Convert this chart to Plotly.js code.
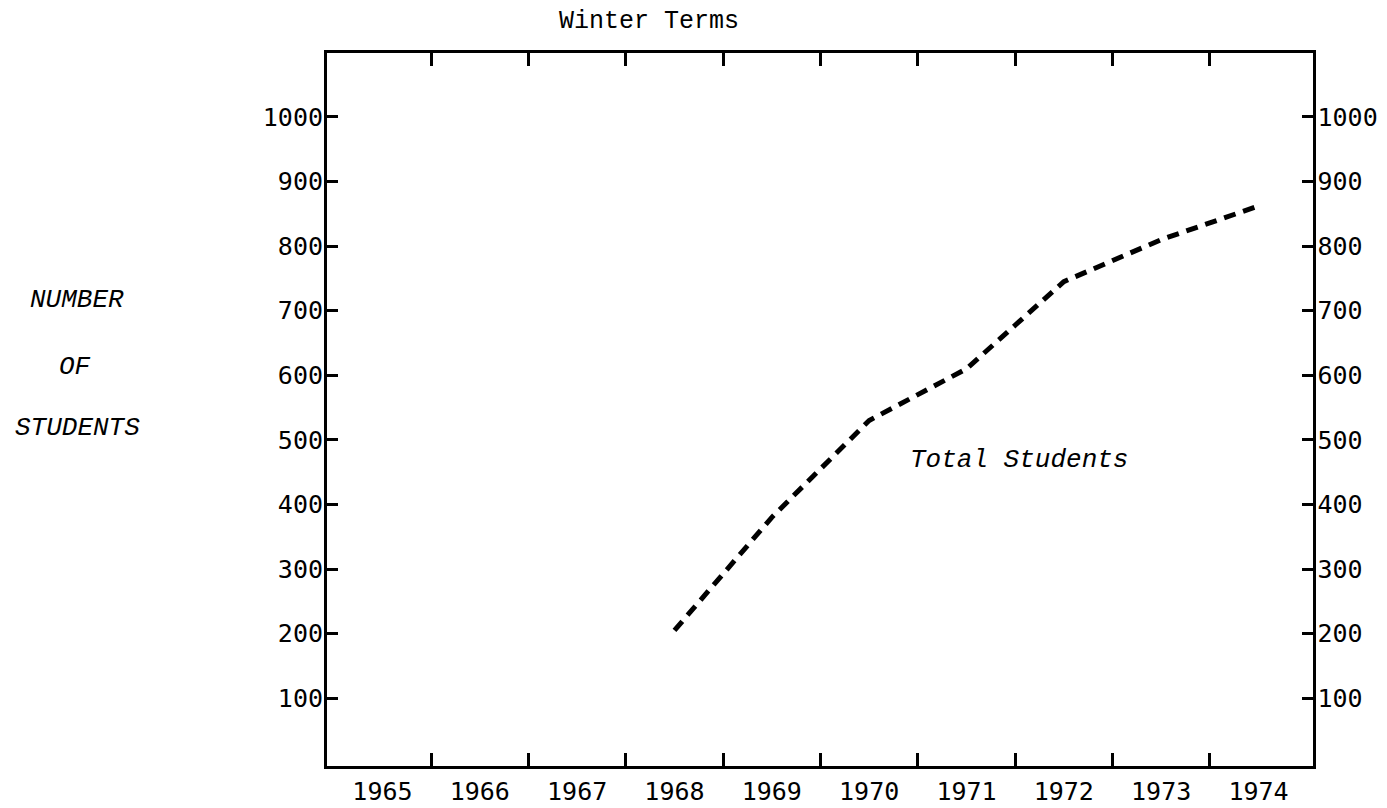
<!DOCTYPE html>
<html>
<head>
<meta charset="utf-8">
<script src="https://cdn.plot.ly/plotly-3.0.1.min.js"></script>
<style>
  html, body { margin: 0; padding: 0; background: #fff; }
  #chart { width: 1387px; height: 808px; }
</style>
</head>
<body>
<div id="chart"></div>
<script>
// ---- data ----
const years = [1968, 1969, 1970, 1971, 1972, 1973, 1974];
const totalStudents = [205, 380, 530, 610, 745, 810, 862];

const yearTicks = [1965, 1966, 1967, 1968, 1969, 1970, 1971, 1972, 1973, 1974];
const yearTickLabels = ['1965', '1966', '1967', '1968', '1969', '1970', '1971', '1972', '1973', '1974'];
const yearDividers = [1965.5, 1966.5, 1967.5, 1968.5, 1969.5, 1970.5, 1971.5, 1972.5, 1973.5];
const yTicks = [100, 200, 300, 400, 500, 600, 700, 800, 900, 1000];
const yTickLabels = ['100', '200', '300', '400', '500', '600', '700', '800', '900', '1000'];

const tickFont = { family: 'DejaVu Sans Mono', size: 25, color: '#000' };
const typeFont = { family: 'Courier New, Courier, Liberation Mono', size: 25, color: '#000' };
const italicFont = { family: 'Courier New, Courier, Liberation Mono', size: 26, color: '#000', style: 'italic' };

const xRange = [1964.43, 1974.56];
const yRange = [-5, 1099];

const trace = {
  x: years,
  y: totalStudents,
  type: 'scatter',
  mode: 'lines',
  line: { color: '#000', width: 5, dash: '12px,8px' },
  hoverinfo: 'skip',
  showlegend: false
};

// empty trace so that the right-hand axis is drawn
const rightAxisHolder = {
  x: [],
  y: [],
  type: 'scatter',
  mode: 'lines',
  yaxis: 'y2',
  hoverinfo: 'skip',
  showlegend: false
};

const layout = {
  width: 1387,
  height: 808,
  margin: { l: 327, r: 74, t: 53, b: 42, pad: 0 },
  paper_bgcolor: '#fff',
  plot_bgcolor: '#fff',
  showlegend: false,
  xaxis: {
    range: xRange,
    tickmode: 'array',
    tickvals: yearTicks,
    ticktext: yearTickLabels,
    ticks: '',
    tickfont: tickFont,
    ticklabelstandoff: 1,
    showgrid: false,
    zeroline: false,
    showline: true,
    linecolor: '#000',
    linewidth: 3,
    mirror: 'allticks',
    minor: {
      tickmode: 'array',
      tickvals: yearDividers,
      ticks: 'inside',
      ticklen: 13,
      tickwidth: 3,
      tickcolor: '#000',
      showgrid: false
    }
  },
  yaxis: {
    range: yRange,
    tickmode: 'array',
    tickvals: yTicks,
    ticktext: yTickLabels,
    ticks: 'inside',
    ticklen: 11,
    tickwidth: 3,
    tickcolor: '#000',
    tickfont: tickFont,
    ticklabelstandoff: -4,
    showgrid: false,
    zeroline: false,
    showline: true,
    linecolor: '#000',
    linewidth: 3
  },
  yaxis2: {
    overlaying: 'y',
    side: 'right',
    range: yRange,
    tickmode: 'array',
    tickvals: yTicks,
    ticktext: yTickLabels,
    ticks: 'inside',
    ticklen: 11,
    tickwidth: 3,
    tickcolor: '#000',
    tickfont: tickFont,
    ticklabelstandoff: -3,
    showgrid: false,
    zeroline: false,
    showline: true,
    linecolor: '#000',
    linewidth: 2.5
  },
  annotations: [
    { text: 'Winter Terms', xref: 'paper', yref: 'paper', x: 0.3266, y: 1.0435,
      xanchor: 'center', yanchor: 'middle', showarrow: false, font: typeFont },
    { text: 'NUMBER', xref: 'paper', yref: 'paper', x: -0.2535, y: 0.6536,
      xanchor: 'center', yanchor: 'middle', showarrow: false, font: italicFont },
    { text: 'OF', xref: 'paper', yref: 'paper', x: -0.2556, y: 0.5596,
      xanchor: 'center', yanchor: 'middle', showarrow: false, font: italicFont },
    { text: 'STUDENTS', xref: 'paper', yref: 'paper', x: -0.2535, y: 0.474,
      xanchor: 'center', yanchor: 'middle', showarrow: false, font: italicFont },
    { text: 'Total Students', xref: 'x', yref: 'y', x: 1970.4, y: 469,
      xanchor: 'left', yanchor: 'middle', showarrow: false, font: italicFont }
  ]
};

Plotly.newPlot('chart', [trace, rightAxisHolder], layout, { displayModeBar: false, staticPlot: true });
</script>
</body>
</html>
